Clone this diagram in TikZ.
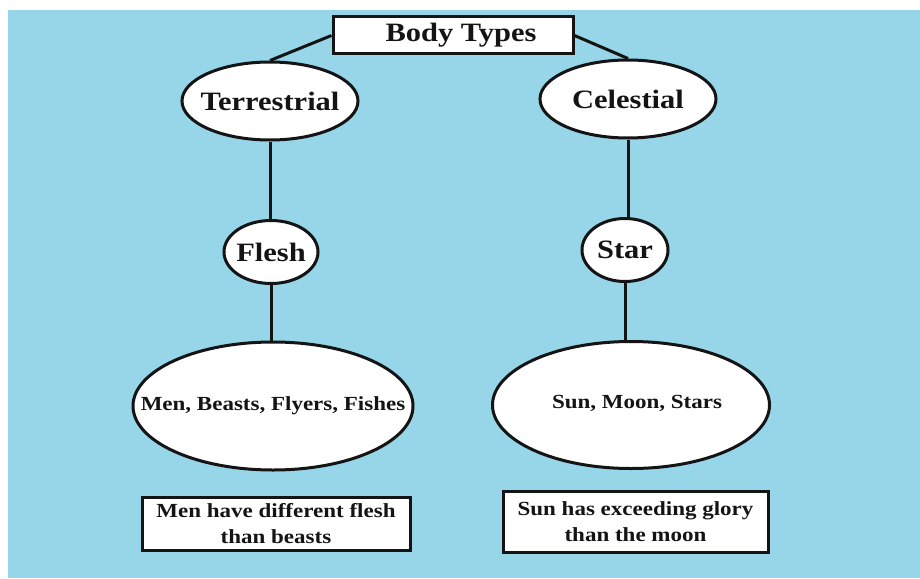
\documentclass[tikz,border=0pt]{standalone}
\usepackage{fontspec}
\setmainfont{Liberation Serif}[FakeStretch=1.15]
\usetikzlibrary{shapes.geometric}
\definecolor{bgblue}{RGB}{151,214,232}
\definecolor{inkc}{RGB}{20,20,20}
\newcommand{\zw}[1]{\makebox[0pt][c]{#1}}
\begin{document}
\begin{tikzpicture}[x=1pt,y=-1pt,
  bigtxt/.style={font=\fontsize{26.5}{30}\selectfont\bfseries, text=inkc},
  smalltxt/.style={font=\fontsize{20}{26}\selectfont\bfseries, text=inkc},
  ell/.style={ellipse, draw=inkc, fill=white, line width=3pt, inner sep=0pt},
  rbox/.style={rectangle, draw=inkc, fill=white, line width=3pt, inner sep=0pt, align=center},
  conn/.style={draw=inkc, line width=3pt}]
\useasboundingbox (0,0) rectangle (920,578);
\fill[white] (0,0) rectangle (920,578);
\fill[bgblue] (8,10) rectangle (920,578);
% nodes
\node[rbox, bigtxt, minimum width=240pt, minimum height=37pt] (bt) at (453,35.5) {\hspace*{16pt}Body Types};
\node[ell, bigtxt, minimum width=176pt, minimum height=78pt] (terr) at (270,101) {\zw{Terrestrial}};
\node[ell, bigtxt, minimum width=176pt, minimum height=78pt] (cel) at (628,99) {\zw{Celestial}};
\node[ell, bigtxt, minimum width=94pt, minimum height=63pt] (flesh) at (271,252) {\zw{Flesh}};
\node[ell, bigtxt, minimum width=86pt, minimum height=63pt] (star) at (625,250) {\zw{Star}};
\node[ell, smalltxt, minimum width=280pt, minimum height=128pt] (bigl) at (273,406) {\zw{Men, Beasts, Flyers, Fishes}};
\node[ell, smalltxt, minimum width=277pt, minimum height=127pt] (bigr) at (631,405) {\raisebox{6pt}{\zw{\hspace*{12pt}Sun, Moon, Stars}}};
\node[rbox, smalltxt, minimum width=268pt, minimum height=53pt] (boxl) at (276,523.5) {Men have different flesh\\than beasts};
\node[rbox, smalltxt, minimum width=265pt, minimum height=61pt] (boxr) at (635.5,521.5) {Sun has exceeding glory\\than the moon};
% connectors
\draw[conn] (bt.west) -- (terr.north);
\draw[conn] (bt.east) -- (cel.north);
\draw[conn] (terr.south) -- (terr.south |- flesh.north);
\draw[conn] (flesh.south) -- (flesh.south |- bigl.north);
\draw[conn] (cel.south) -- (cel.south |- star.north);
\draw[conn] (star.south) -- (star.south |- bigr.north);
\end{tikzpicture}
\end{document}
